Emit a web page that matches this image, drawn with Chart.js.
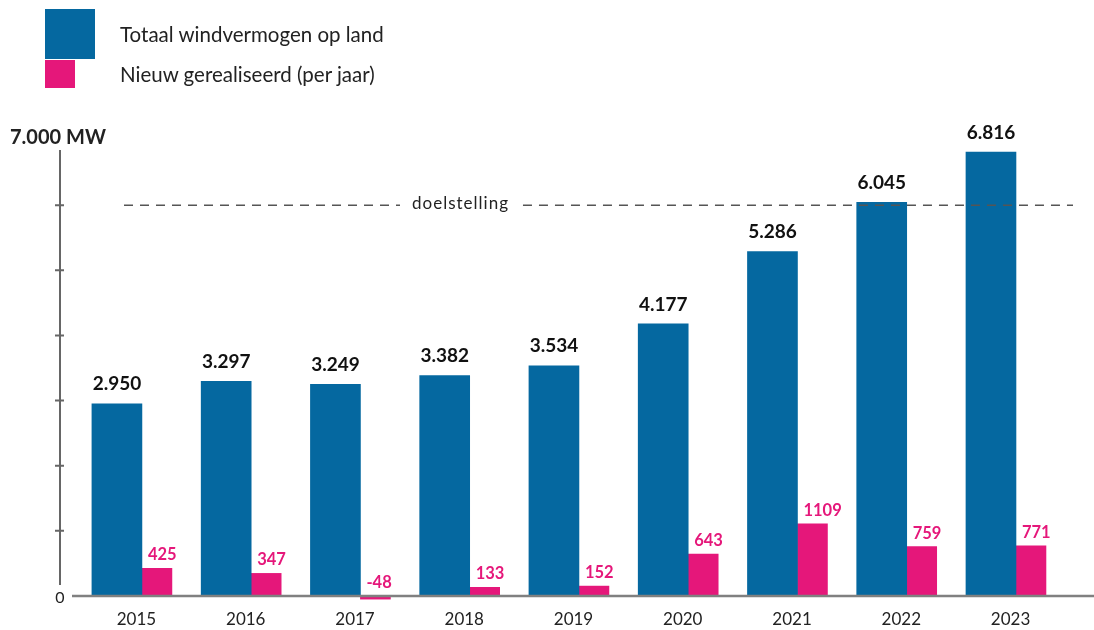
<!DOCTYPE html>
<html>
<head>
<meta charset="utf-8">
<script src="https://cdn.jsdelivr.net/npm/chart.js@4"></script>
<style>
body { margin: 0; background: #fff; font-family: Lato, sans-serif; }
#wrap { position: relative; width: 1094px; height: 630px; }
.box { position: absolute; left: 45px; }
.txt { position: absolute; left: 120px; font-size: 20.5px; color: #222; line-height: 24px; }
</style>
</head>
<body>
<div id="wrap">
  <canvas id="grafiek" width="1094" height="630"></canvas>
  <div class="box" style="top:9px;width:50px;height:50px;background:#0568a0"></div>
  <div class="box" style="top:60px;width:30px;height:28px;background:#e5177a"></div>
  <div class="txt" style="top:22px">Totaal windvermogen op land</div>
  <div class="txt" style="top:62px">Nieuw gerealiseerd (per jaar)</div>
</div>
<script>
// data
const jaren = ['2015', '2016', '2017', '2018', '2019', '2020', '2021', '2022', '2023'];
const totaal = [2950, 3297, 3249, 3382, 3534, 4177, 5286, 6045, 6816];
const nieuw = [425, 347, -48, 133, 152, 643, 1109, 759, 771];
const doelstelling = 6000;
const yMax = 7000;
const yStap = 1000;

const blauw = '#0568a0';
const roze = '#e5177a';

function punten(v) { // 2950 -> 2.950
    return String(v).replace(/\B(?=(\d{3})+(?!\d))/g, '.');
}

const assenPlugin = {
    id: 'assen',
    afterDatasetsDraw(chart) {
        const ctx = chart.ctx;
        const y = chart.scales.y;
        const x = chart.scales.x;
        const nul = y.getPixelForValue(0);
        ctx.save();

        // x-as
        ctx.strokeStyle = '#808080';
        ctx.lineWidth = 2.5;
        ctx.beginPath();
        ctx.moveTo(72, nul);
        ctx.lineTo(chart.chartArea.right, nul);
        ctx.stroke();

        // y-as met streepjes
        ctx.strokeStyle = '#666';
        ctx.lineWidth = 2;
        ctx.beginPath();
        ctx.moveTo(60, 150);
        ctx.lineTo(60, nul - 11);
        for (let v = yStap; v < yMax; v += yStap) {
            const py = y.getPixelForValue(v);
            ctx.moveTo(55, py);
            ctx.lineTo(64, py);
        }
        ctx.stroke();

        ctx.fillStyle = '#222';
        ctx.font = '16px Lato';
        ctx.textAlign = 'center';
        ctx.textBaseline = 'middle';
        ctx.fillText('0', 60, nul + 2);

        ctx.font = 'bold 20px Lato';
        ctx.textAlign = 'left';
        ctx.fillText(punten(yMax) + ' MW', 10, y.getPixelForValue(yMax) - 2);

        // doelstelling
        const dy = y.getPixelForValue(doelstelling);
        ctx.font = '17px Lato';
        ctx.letterSpacing = '1px';
        const tekstX = 412;
        const breed = ctx.measureText('doelstelling').width;
        ctx.strokeStyle = '#555';
        ctx.lineWidth = 1.5;
        ctx.setLineDash([9, 7]);
        ctx.beginPath();
        ctx.moveTo(124, dy);
        ctx.lineTo(tekstX - 12, dy);
        ctx.moveTo(tekstX + breed + 14, dy);
        ctx.lineTo(1073, dy);
        ctx.stroke();
        ctx.setLineDash([]);
        ctx.fillText('doelstelling', tekstX, dy - 2);
        ctx.letterSpacing = '0px';

        // jaartallen
        ctx.font = '17px Lato';
        ctx.textAlign = 'center';
        jaren.forEach(function(j, i) {
            ctx.fillText(j, x.getPixelForValue(i - 0.05), 620);
        });

        // waarden boven de staven
        const blauwMeta = chart.getDatasetMeta(0);
        const rozeMeta = chart.getDatasetMeta(1);
        ctx.textBaseline = 'bottom';
        ctx.font = 'bold 19px Lato';
        ctx.fillStyle = '#111';
        blauwMeta.data.forEach(function(bar, i) {
            ctx.fillText(punten(totaal[i]), bar.x, bar.y - 10);
        });
        ctx.font = 'bold 16.5px Lato';
        ctx.fillStyle = roze;
        ctx.textAlign = 'left';
        rozeMeta.data.forEach(function(bar, i) {
            const top = Math.min(bar.y, bar.base);
            ctx.fillText(String(nieuw[i]), bar.x - bar.width / 2 + 6, top - 5);
        });

        ctx.restore();
    }
};

new Chart(document.getElementById('grafiek').getContext('2d'), {
    type: 'bar',
    data: {
        datasets: [{
            label: 'Totaal windvermogen op land',
            data: totaal.map(function(v, i) { return { x: i - 0.229, y: v }; }),
            backgroundColor: blauw,
            barThickness: 50,
            grouped: false,
            borderWidth: 0
        }, {
            label: 'Nieuw gerealiseerd (per jaar)',
            data: nieuw.map(function(v, i) { return { x: i + 0.137, y: v }; }),
            backgroundColor: roze,
            barThickness: 30,
            grouped: false,
            borderWidth: 0,
            clip: false
        }]
    },
    options: {
        responsive: false,
        animation: false,
        layout: { padding: { left: 60, right: 0, top: 140, bottom: 34 } },
        scales: {
            x: { type: 'linear', min: -0.75, max: 8.714, offset: false, display: false },
            y: { min: 0, max: yMax, display: false }
        },
        plugins: {
            legend: { display: false },
            tooltip: { enabled: false }
        }
    },
    plugins: [assenPlugin]
});
</script>
</body>
</html>
